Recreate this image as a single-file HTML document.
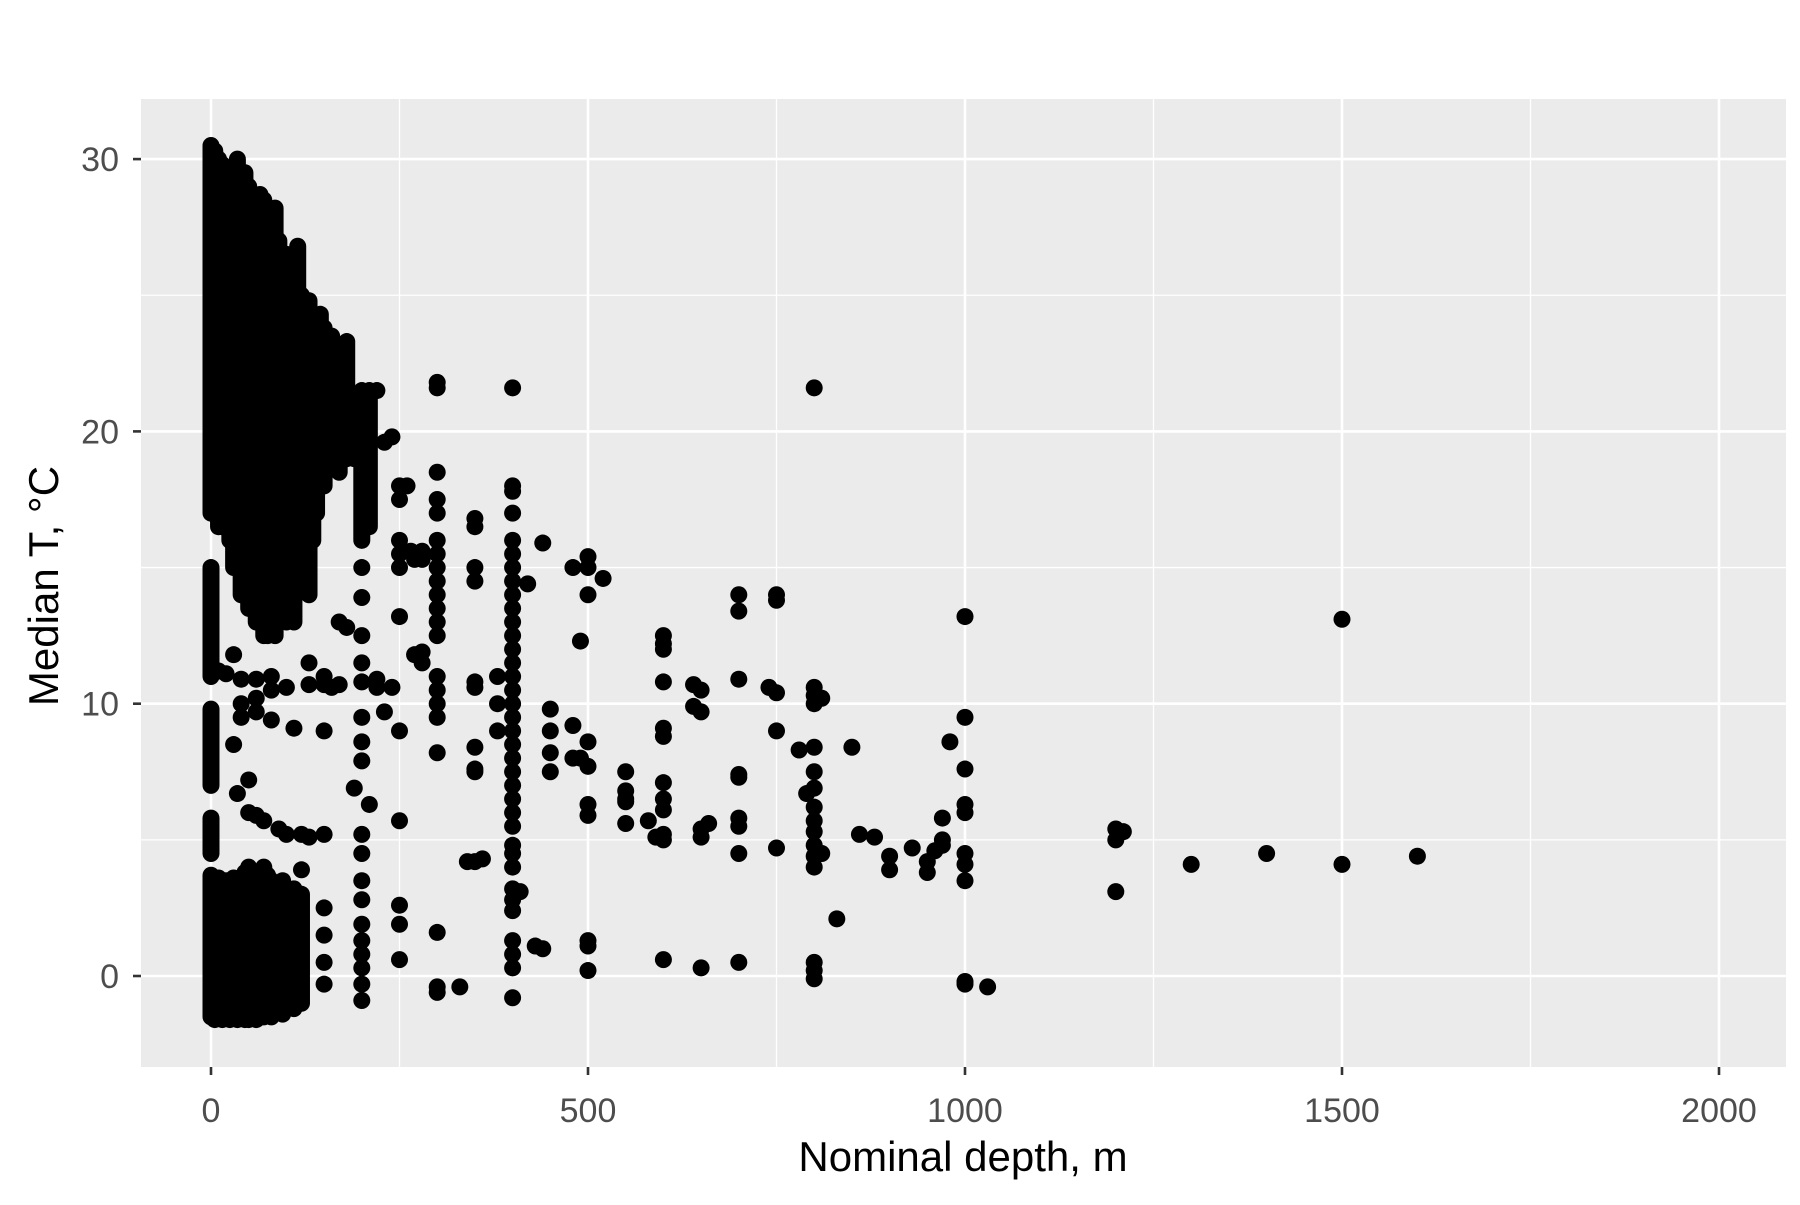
<!DOCTYPE html>
<html><head><meta charset="utf-8"><style>
html,body{margin:0;padding:0;background:#fff}
svg text{font-family:"Liberation Sans",Arial,sans-serif}
</style></head><body>
<svg id="chart" width="1800" height="1200" xmlns="http://www.w3.org/2000/svg">
<rect x="141" y="99" width="1645" height="968" fill="#ebebeb"/>
<g id="grid"></g><g id="marks"></g><g id="axes"></g>
<text x="963" y="1171" font-size="42" text-anchor="middle" fill="#000">Nominal depth, m</text>
<text transform="translate(58,586) rotate(-90)" font-size="42" text-anchor="middle" fill="#000">Median T, °C</text>
</svg>
<script>
// Dense bands of overlapping points: depth, lower temp, upper temp
const bandDepth=[0,5,10,15,20,25,30,35,40,45,50,55,60,65,70,75,80,85,90,95,100,105,110,115,120,125,130,135,140,145,150,160,170,180,190,200,210,
 0,0,0, 0,5,10,15,20,25,30,35,40,45,50,55,60,65,70,75,80,85,90,95,100,105,110,115,120];
const bandLo=[17,17,16.5,16.5,17,16,15,15,14,14,13.5,13.5,13,13,12.5,12.5,13,12.5,13,14,13,14,13,15,15,16,14,16,17,18,18,19,18.5,19,19,16,16.5,
 4.5,7,11, -1.5,-1.6,-1.5,-1.6,-1.5,-1.6,-1.5,-1.6,-1.5,-1.6,-1.6,-1.5,-1.6,-1.5,-1.5,-1.4,-1.5,-1.3,-1.2,-1.4,-1.1,-1,-1.2,-0.9,-1];
const bandHi=[30.5,30.3,30,29.8,29.5,29.5,29.5,30,29.5,29.5,29,28.5,28.5,28.7,28.5,28,27.5,28.2,27,26.5,26.5,26,25.5,26.8,25,24.5,24.8,24,24,24.3,23.8,23.5,23,23.3,21,21.5,21.5,
 5.8,9.8,15, 3.7,3.5,3.6,3.4,3.5,3.3,3.6,3.4,3.5,3.8,4,3.6,3.5,3.8,4,3.7,3.5,3.2,3,3.5,3.1,2.9,3.2,2.8,3];
// Individual points
const pointDepth=[300,300,300,300,300,300,300,300,300,300,300,300,300,300,300,300,300,300,300,300,300,
 250,250,250,250,250,250,250,250,250,250,250,
 350,350,350,350,350,350,350,350,350,350,330,340,360,
 400,400,400,400,400,400,400,400,400,400,400,400,400,400,400,400,400,400,400,400,400,400,400,400,400,400,400,400,400,400,400,400,400,400,400,400,
 380,380,380,410,420,430,440,440,450,450,450,450,480,480,480,490,490,500,500,500,500,500,500,500,500,500,500,520,
 550,550,550,550,550,580,590,600,600,600,600,600,600,600,600,600,600,600,600,640,640,650,650,650,650,650,660,
 700,700,700,700,700,700,700,700,700,740,750,750,750,750,750,780,790,
 800,800,800,800,800,800,800,800,800,800,800,800,800,800,800,800,810,810,830,850,860,880,900,900,930,950,950,960,970,970,970,980,
 1000,1000,1000,1000,1000,1000,1000,1000,1000,1000,1030,1200,1200,1200,1210,1300,1400,1500,1500,1600,
 150,150,150,150,120,120,130,130,130,160,170,170,180,190,
 200,200,200,200,200,200,200,200,200,200,200,200,200,200,200,200,200,200,
 220,220,230,240,210,280,280,280,280,270,150,150,150,150,
 40,40,40,60,60,60,80,80,80,100,110,30,30,10,20,35,50,50,60,70,90,100,
 220,230,240,260,265,270,180,190];
const pointTemp=[21.8,21.6,18.5,17.5,17,16,15.5,15,14.5,14,13.5,13,12.5,11,10.5,10,9.5,8.2,1.6,-0.4,-0.6,
 18,17.5,16,15.5,15,13.2,9,5.7,2.6,1.9,0.6,
 16.8,16.5,15,14.5,10.8,10.6,8.4,7.6,7.5,4.2,-0.4,4.2,4.3,
 21.6,18,17.8,17,16,15.5,15,14.5,14,13.5,13,12.5,12,11.5,11,10.5,10,9.5,9,8.5,8,7.5,7,6.5,6,5.5,4.8,4.5,4,3.2,2.8,2.4,1.3,0.8,0.3,-0.8,
 9,11,10,3.1,14.4,1.1,15.9,1,9.8,9,8.2,7.5,15,9.2,8,12.3,8,15.4,15,14,8.6,7.7,6.3,5.9,1.3,1.1,0.2,14.6,
 7.5,6.8,6.5,6.4,5.6,5.7,5.1,12.5,12.2,12,10.8,9.1,8.8,7.1,6.5,6.1,5.2,5,0.6,10.7,9.9,10.5,9.7,5.4,5.1,0.3,5.6,
 14,13.4,10.9,7.4,7.3,5.8,5.5,4.5,0.5,10.6,14,13.8,10.4,9,4.7,8.3,6.7,
 21.6,10.6,10.3,10,8.4,7.5,6.9,6.2,5.7,5.3,4.8,4.4,4,0.5,0.2,-0.1,10.2,4.5,2.1,8.4,5.2,5.1,4.4,3.9,4.7,4.2,3.8,4.6,5.8,5,4.8,8.6,
 13.2,9.5,7.6,6.3,6,4.5,4.1,3.5,-0.2,-0.3,-0.4,5.4,5,3.1,5.3,4.1,4.5,13.1,4.1,4.4,
 11,10.7,9,5.2,5.2,3.9,11.5,10.7,5.1,10.6,13,10.7,12.8,6.9,
 15,13.9,12.5,11.5,10.8,9.5,8.6,7.9,5.2,4.5,3.5,2.8,1.9,1.3,0.8,0.3,-0.3,-0.9,
 10.9,10.6,9.7,10.6,6.3,11.5,11.9,15.3,15.6,11.8,2.5,1.5,0.5,-0.3,
 10.9,10,9.5,10.2,9.7,10.9,11,10.5,9.4,10.6,9.1,11.8,8.5,11.2,11.1,6.7,6,7.2,5.9,5.7,5.4,5.2,
 21.5,19.6,19.8,18,15.6,15.3,20,19.5];
const xTicks=[0,500,1000,1500,2000];
const xTickLabels=["0","500","1000","1500","2000"];
const yTicks=[0,10,20,30];
const yTickLabels=["0","10","20","30"];
const xMinor=[250,750,1250,1750];
const yMinor=[5,15,25];

const NS="http://www.w3.org/2000/svg";
const X0=141,X1=1786,Y0=99,Y1=1067;
function xs(v){return 211+v*(377/500);}
function ys(v){return 976-v*27.23;}
function mk(tag,attrs,parent){const e=document.createElementNS(NS,tag);for(const k in attrs)e.setAttribute(k,attrs[k]);parent.appendChild(e);return e;}
const grid=document.getElementById('grid'),marks=document.getElementById('marks'),axes=document.getElementById('axes');
xMinor.forEach(v=>{const l=mk('line',{x1:xs(v),x2:xs(v),y1:Y0,y2:Y1,stroke:'#fff','stroke-width':1.3},grid);

});
yMinor.forEach(v=>{const l=mk('line',{x1:X0,x2:X1,y1:ys(v),y2:ys(v),stroke:'#fff','stroke-width':1.3},grid);

});
xTicks.forEach((v,i)=>{const l=mk('line',{x1:xs(v),x2:xs(v),y1:Y0,y2:Y1,stroke:'#fff','stroke-width':2.6},grid);


const t=mk('line',{x1:xs(v),x2:xs(v),y1:Y1,y2:Y1+8,stroke:'#333','stroke-width':2.6},axes);


const tx=mk('text',{x:xs(v),y:1122,'font-size':34,'text-anchor':'middle',fill:'#4d4d4d'},axes);tx.textContent=xTickLabels[i];

});
yTicks.forEach((v,i)=>{const l=mk('line',{x1:X0,x2:X1,y1:ys(v),y2:ys(v),stroke:'#fff','stroke-width':2.6},grid);


const t=mk('line',{x1:X0-8,x2:X0,y1:ys(v),y2:ys(v),stroke:'#333','stroke-width':2.6},axes);


const tx=mk('text',{x:119,y:ys(v)+12,'font-size':34,'text-anchor':'end',fill:'#4d4d4d'},axes);tx.textContent=yTickLabels[i];

});
bandDepth.forEach((d,i)=>{const l=mk('line',{x1:xs(d),x2:xs(d),y1:ys(bandLo[i]),y2:ys(bandHi[i]),stroke:'#000','stroke-width':17,'stroke-linecap':'round'},marks);

});
pointDepth.forEach((d,i)=>{const c=mk('circle',{cx:xs(d),cy:ys(pointTemp[i]),r:8.5,fill:'#000'},marks);

});
</script>
</body></html>
